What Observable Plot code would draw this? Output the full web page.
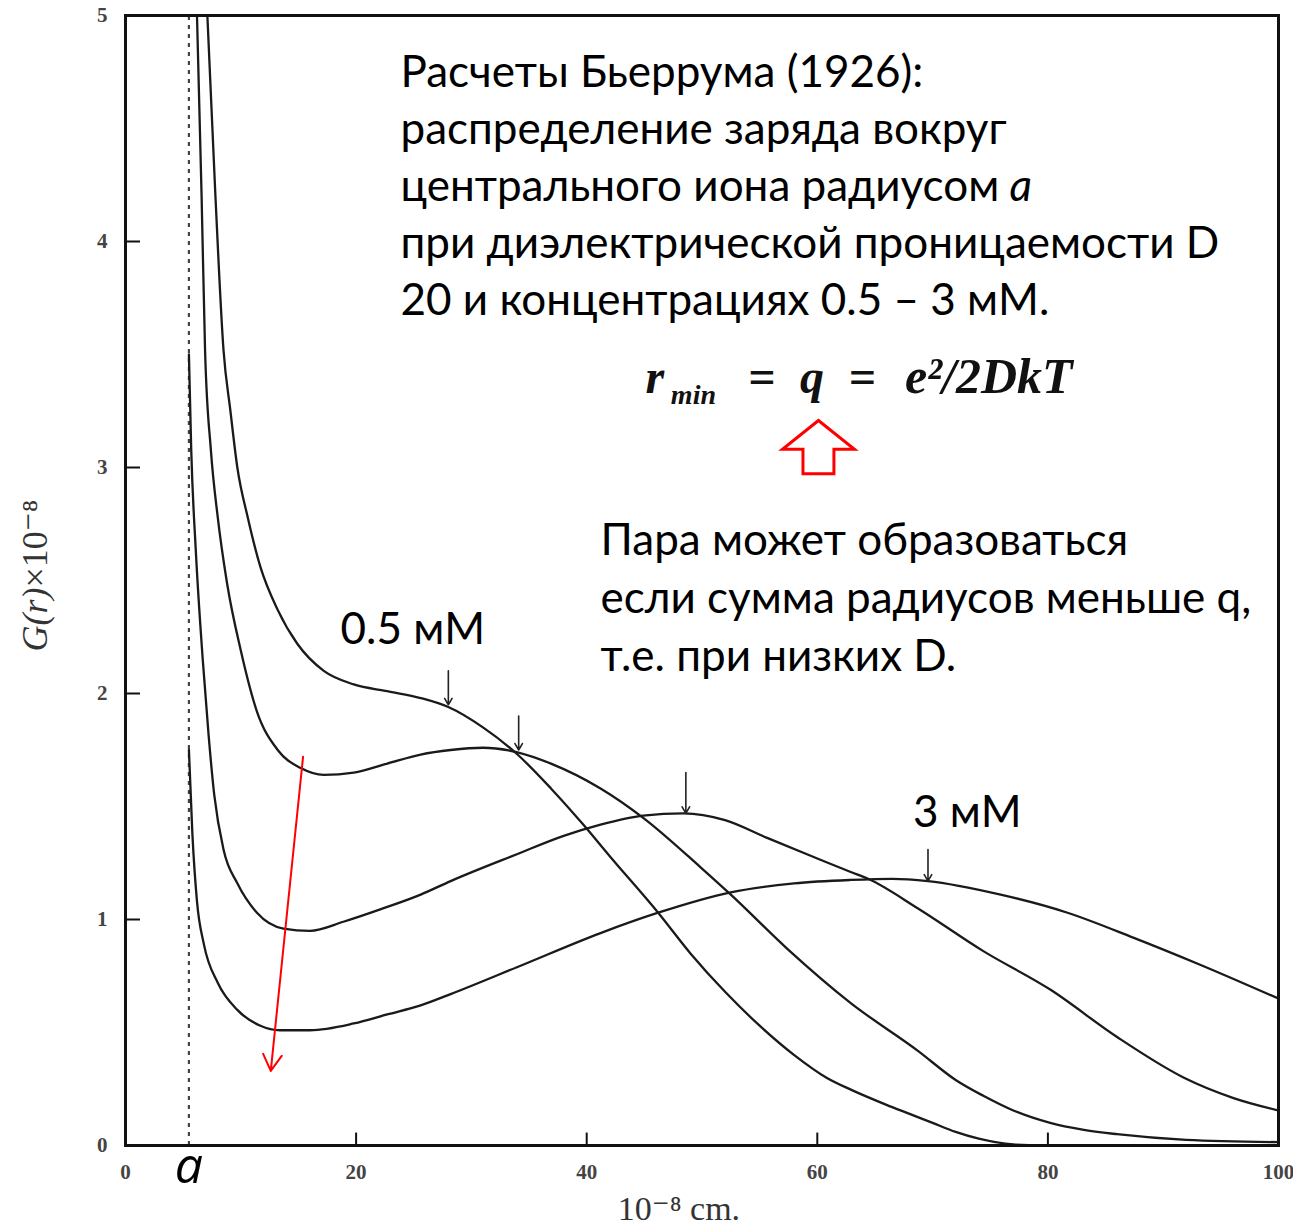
<!DOCTYPE html>
<html><head><meta charset="utf-8">
<script src="https://cdn.jsdelivr.net/npm/d3@7"></script>
<script src="https://cdn.jsdelivr.net/npm/@observablehq/plot@0.6"></script>
<style>body{margin:0;background:#fff}#chart svg{display:block}</style>
</head><body><div id="chart"></div>
<script>
// ---- data ----
const ionRadius = 5.5;
const xTicks = [0, 20, 40, 60, 80, 100];
const yTicks = [0, 1, 2, 3, 4, 5];

const xA = [7.1, 7.8, 8.5, 9.1, 9.7, 10.6, 11.7, 13.2, 14.9, 17.2, 19.8, 22.7, 25.6, 28.0, 31.0, 34.0, 36.9, 39.7, 42.0, 46.2, 49.0, 52.0, 55.0, 58.0, 60.8, 63.0, 66.0, 68.0, 70.0, 72.0, 74.0, 77.0, 80.0];
const gA = [5.0, 4.2, 3.52, 3.25, 3.0, 2.78, 2.56, 2.37, 2.22, 2.10, 2.04, 2.01, 1.98, 1.94, 1.85, 1.73, 1.58, 1.42, 1.28, 1.03, 0.85, 0.68, 0.53, 0.40, 0.30, 0.245, 0.18, 0.14, 0.10, 0.06, 0.03, 0.005, 0.0];

const xB = [6.2, 6.6, 6.9, 7.4, 8.0, 8.8, 10.0, 11.4, 13.2, 15.2, 17.2, 19.8, 22.7, 25.6, 28.2, 31.0, 34.0, 36.9, 41.2, 44.9, 49.9, 52.5, 57.4, 62.9, 68.7, 72.0, 74.4, 77.0, 80.2, 83.0, 86.0, 92.0, 100];
const gB = [5.0, 4.2, 3.52, 3.08, 2.78, 2.49, 2.19, 1.92, 1.75, 1.67, 1.64, 1.65, 1.69, 1.73, 1.75, 1.76, 1.74, 1.69, 1.58, 1.45, 1.23, 1.11, 0.87, 0.63, 0.42, 0.29, 0.22, 0.155, 0.10, 0.07, 0.05, 0.025, 0.015];

const xC = [5.5, 5.7, 6.1, 6.7, 7.2, 7.7, 8.5, 9.7, 11.4, 13.7, 16.0, 18.9, 22.4, 25.6, 28.2, 34.0, 38.0, 41.2, 44.9, 48.4, 52.0, 55.7, 60.0, 62.9, 64.4, 68.7, 74.4, 80.2, 86.0, 91.8, 96.1, 100];
const gC = [3.5, 3.08, 2.63, 2.15, 1.82, 1.55, 1.31, 1.16, 1.03, 0.96, 0.95, 0.99, 1.05, 1.11, 1.17, 1.29, 1.37, 1.42, 1.46, 1.47, 1.44, 1.36, 1.27, 1.21, 1.18, 1.05, 0.86, 0.69, 0.48, 0.30, 0.21, 0.155];

const xD = [5.5, 5.8, 6.2, 6.8, 8.0, 9.7, 11.7, 13.4, 16.0, 19.8, 22.7, 25.6, 28.2, 34.0, 41.2, 46.2, 52.5, 58.0, 62.9, 66.5, 69.6, 75.9, 81.7, 87.4, 93.2, 100];
const gD = [1.75, 1.38, 1.08, 0.89, 0.72, 0.60, 0.53, 0.51, 0.51, 0.54, 0.58, 0.62, 0.67, 0.79, 0.94, 1.03, 1.12, 1.16, 1.175, 1.18, 1.17, 1.11, 1.03, 0.92, 0.80, 0.65];

// arrows marking maxima
const peakX = [28.0, 34.1, 48.6, 69.6];
const peakTop = [2.10, 1.90, 1.65, 1.31];
const peakTip = [1.95, 1.75, 1.47, 1.17];

// text
const noteLines = ["Расчеты Бьеррума (1926):", "распределение заряда вокруг", "центрального иона радиусом", "при диэлектрической проницаемости D", "20 и концентрациях 0.5 – 3 мМ."];
const noteItalic = " a";
const pairLines = ["Пара может образоваться", "если сумма радиусов меньше q,", "т.е. при низких D."];
const labelLow = "0.5 мМ";
const labelHigh = "3 мМ";
const yTitleItalic = "G(r)";
const yTitleRest = "×10⁻⁸";
const xTitle = "10⁻⁸ cm.";
const formulaParts = ["r", "min", "=", "q", "=", "e²/2DkT"];

// ---- build ----
const series = [["0.5", xA, gA], ["1", xB, gB], ["2", xC, gC], ["3", xD, gD]];
const rows = series.flatMap(([s, xs, gs]) => xs.map((x, i) => ({s, x, g: gs[i]})));
const peaks = peakX.map((x, i) => ({x, y1: peakTop[i], y2: peakTip[i]}));
const notes = noteLines.map((t, i) => ({t, i}));
const pairs = pairLines.map((t, i) => ({t, i}));

const sans = "Lato, 'Open Sans', sans-serif";
const serif = "'Liberation Serif', 'DejaVu Serif', serif";
const fs = 44;

// hollow block arrow symbol
const blockArrow = {
  draw(ctx, size) {
    const r = Math.sqrt(size / Math.PI);
    const h = r * 0.74, sw = r * 0.43;
    ctx.moveTo(0, -h);
    ctx.lineTo(r, h * 0.08);
    ctx.lineTo(sw, h * 0.08);
    ctx.lineTo(sw, h);
    ctx.lineTo(-sw, h);
    ctx.lineTo(-sw, h * 0.08);
    ctx.lineTo(-r, h * 0.08);
    ctx.closePath();
  }
};

const fText = {lineAnchor: "bottom", textAnchor: "start", fontFamily: serif, fontWeight: "bold", fontStyle: "italic", fill: "#111"};

const chart = Plot.plot({
  width: 1293, height: 1228,
  marginLeft: 125, marginRight: 15, marginTop: 15, marginBottom: 83,
  x: {domain: [0, 100]},
  y: {domain: [0, 5]},
  style: {background: "#fff"},
  marks: [
    Plot.ruleX([ionRadius], {y1: 0, y2: 5, stroke: "#444", strokeWidth: 2.2, strokeDasharray: "4,5"}),
    Plot.line(rows, {x: "x", y: "g", z: "s", stroke: "#1a1a1a", strokeWidth: 2.3, curve: "monotone-x", clip: true}),
    Plot.arrow(peaks, {x: "x", y1: "y1", y2: "y2", stroke: "#222", strokeWidth: 1.6, headLength: 7}),
    Plot.arrow([0], {x1: 15.4, y1: 1.72, x2: 12.6, y2: 0.33, stroke: "#ff0000", strokeWidth: 2, headLength: 14}),
    Plot.frame({stroke: "#111", strokeWidth: 3}),
    Plot.ruleY(yTicks.filter(v => v > 0 && v < 5), {x1: 0, x2: 1.3, stroke: "#111", strokeWidth: 2}),
    Plot.ruleX(xTicks.filter(v => v > 0 && v < 100), {y1: 0, y2: 0.055, stroke: "#111", strokeWidth: 2}),
    Plot.axisX({ticks: xTicks, tickSize: 0, tickPadding: 19, tickFormat: d => String(d), fontSize: 21, fontFamily: serif, fontWeight: "bold", fill: "#444", label: null}),
    Plot.axisY({ticks: yTicks, tickSize: 0, tickPadding: 18, tickFormat: d => String(d), fontSize: 21, fontFamily: serif, fontWeight: "bold", fill: "#444", label: null}),
    Plot.text([yTitleItalic + yTitleRest], {frameAnchor: "left", textAnchor: "middle", rotate: -90, dx: -90, dy: -5, fontSize: 36, fontFamily: serif, fill: "#333"}),
    Plot.text([xTitle], {x: 48, frameAnchor: "bottom", dy: 74, fontSize: 34, fontFamily: serif, fill: "#333"}),
    Plot.text(["a"], {x: ionRadius, frameAnchor: "bottom", dy: 37, fontSize: 50, fontStyle: "italic", fontFamily: "'Open Sans', sans-serif", fill: "#000"}),
    // annotations
    Plot.text(notes, {x: 23.85, y: d => 4.748 - d.i * 0.2527, text: "t", textAnchor: "start", fontSize: fs, fontFamily: sans, fill: "#000"}),
    Plot.text(pairs, {x: 41.2, y: d => 2.673 - d.i * 0.2545, text: "t", textAnchor: "start", fontSize: fs, fontFamily: sans, fill: "#000"}),
    Plot.text([labelLow], {x: 18.65, y: 2.28, textAnchor: "start", fontSize: fs, fontFamily: sans, fill: "#000"}),
    Plot.text([labelHigh], {x: 68.3, y: 1.47, textAnchor: "start", fontSize: fs, fontFamily: sans, fill: "#000"}),
    Plot.text([formulaParts[0]], {...fText, x: 45.1, y: 3.33, fontSize: 48}),
    Plot.text([formulaParts[1]], {...fText, x: 47.3, y: 3.28, fontSize: 28}),
    Plot.text([formulaParts[2]], {...fText, x: 54.0, y: 3.33, fontSize: 48}),
    Plot.text([formulaParts[3]], {...fText, x: 58.5, y: 3.33, fontSize: 48}),
    Plot.text([formulaParts[4]], {...fText, x: 62.7, y: 3.33, fontSize: 48}),
    Plot.text([formulaParts[5]], {...fText, x: 67.6, y: 3.33, fontSize: 50}),
    Plot.dot([0], {x: 60.1, y: 3.09, r: 36, symbol: blockArrow, fill: "#fff", stroke: "#ff0000", strokeWidth: 3})
  ]
});

// rich-text touches: italic parts as tspans
d3.select(chart).selectAll("text").each(function () {
  const el = d3.select(this);
  const t = el.text();
  if (t === noteLines[2]) {
    el.append("tspan").attr("font-style", "italic").text(noteItalic);
  } else if (t === yTitleItalic + yTitleRest) {
    el.text("");
    el.append("tspan").attr("font-style", "italic").text(yTitleItalic);
    el.append("tspan").text(yTitleRest);
  }
});
document.getElementById("chart").append(chart);
</script></body></html>
